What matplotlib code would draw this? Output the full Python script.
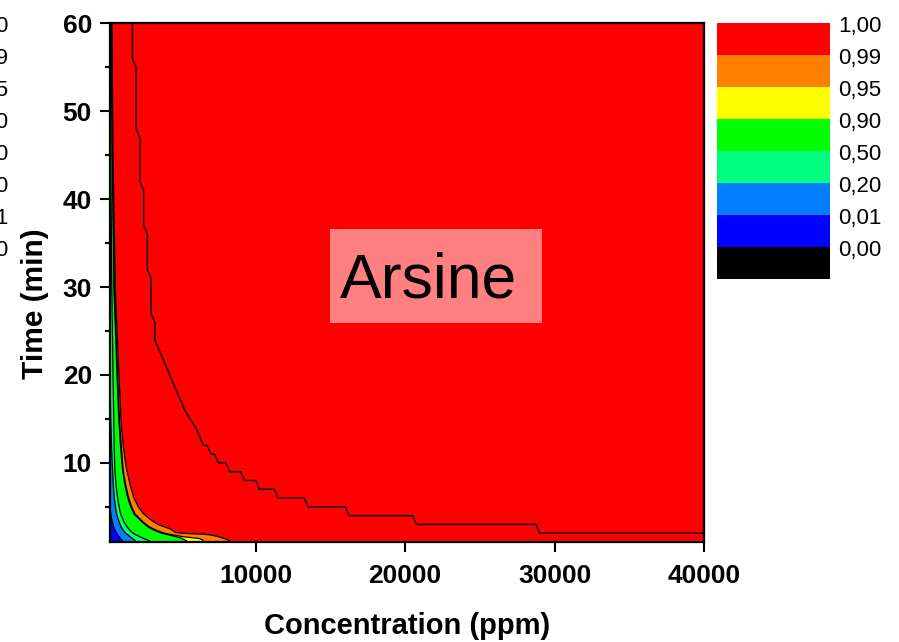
import matplotlib
matplotlib.use("Agg")
import matplotlib.pyplot as plt
from matplotlib.patches import Rectangle
from matplotlib.ticker import MultipleLocator

plt.rcParams["font.family"] = ["Liberation Sans", "DejaVu Sans"]

W, H = 899, 642
X_MIN, X_MAX = 250, 40000
T_MIN, T_MAX = 1, 60

# colour bands bottom -> top, label sits on the top edge of each band
levels = ["0,00", "0,01", "0,20", "0,50", "0,90", "0,95", "0,99", "1,00"]
band_colors = ["#000000", "#0000FF", "#0080FF", "#00FF80",
               "#00FF00", "#FFFF00", "#FF8000", "#FF0000"]

# contour lines: time (min) / concentration (ppm)
c01_t = [5.0, 4.2, 3.3, 2.7, 2.3, 2.0, 1.7, 1.4, 1.2, 1.0]
c01_c = [250, 300, 400, 500, 600, 700, 800, 950, 1050, 1130]

c20_t = [20, 15, 12, 9.2, 7.5, 6, 5, 4.2, 3.3, 2.7, 2.3, 2.0, 1.8, 1.6, 1.4, 1.2, 1.0]
c20_c = [250, 300, 350, 420, 470, 540, 610, 690, 850, 1000, 1150, 1300, 1450, 1600, 1750, 1900, 2000]

c50_t = [60, 40, 30, 20, 15, 12, 9.2, 7.5, 6, 5, 4.2, 3.3, 2.7, 2.3, 2.0, 1.8, 1.6, 1.4, 1.2, 1.0]
c50_c = [260, 320, 370, 450, 500, 530, 576, 650, 760, 860, 960, 1180, 1400, 1600, 1800, 2000, 2250, 2500, 2800, 3000]

c90_t = [60, 45, 30, 20, 15, 12, 9.2, 7.5, 6, 5, 4.2, 3.3, 2.7, 2.3, 2.0, 1.8, 1.6, 1.45, 1.28, 1.15, 1.0]
c90_c = [340, 400, 510, 720, 840, 950, 1090, 1250, 1440, 1640, 1850, 2380, 2800, 3250, 3700, 4200, 4700, 5000, 5200, 5350, 5400]

c95_t = [60, 45, 30, 20, 15, 12, 9.2, 7.5, 6, 5, 4.2, 3.3, 2.7, 2.3, 2.0, 1.8, 1.6, 1.5, 1.4, 1.25, 1.0]
c95_c = [355, 420, 540, 760, 880, 1000, 1130, 1300, 1500, 1700, 1920, 2450, 2900, 3400, 3900, 4500, 5150, 5700, 6200, 6450, 6500]

c99_t = [60, 45, 30, 20, 15, 12, 9.5, 7.5, 6, 5, 4.2, 3.5, 3, 2.5, 2.3, 2.1, 2.0, 1.95, 1.9, 1.8, 1.6, 1.4, 1.2, 1.0]
c99_c = [380, 450, 600, 850, 980, 1130, 1330, 1600, 1850, 2150, 2500, 3000, 3450, 4260, 4450, 4600, 5000, 5600, 6400, 7000, 7500, 7900, 8200, 8390]

# the stepped 1,00 line
outer_t = [60, 56, 55, 48, 47, 42, 41, 37, 36, 32, 31, 27, 26, 24,
           23, 22, 21, 20, 19, 18, 17, 16, 15.3, 14.6, 14, 13,
           12, 12, 11, 11, 10, 10, 9, 9, 8, 8, 7, 7, 6, 6, 5, 5, 4, 4, 3, 3, 2, 2]
outer_c = [1750, 1750, 2000, 2000, 2250, 2250, 2500, 2500, 2750, 2750, 3000, 3000, 3250, 3250,
           3500, 3750, 4000, 4250, 4500, 4750, 5000, 5250, 5500, 5750, 6000, 6250,
           6500, 6750, 7000, 7250, 7500, 8000, 8250, 9000, 9250, 10000, 10250, 11250,
           11500, 13250, 13500, 16000, 16250, 20500, 20750, 28750, 29000, 40000]


def px(x0, y0, x1, y1):
    """pixel box (top-left origin) -> figure rect"""
    return [x0 / W, 1 - y1 / H, (x1 - x0) / W, (y1 - y0) / H]


fig = plt.figure(figsize=(W / 100, H / 100), dpi=100)
ax = fig.add_axes(px(110, 23.3, 704, 542))
ax.set_facecolor("#FF0000")

# paint from the outside in: each polygon is the area left of a contour
fills = [(c99_c, c99_t, "#FF8000"), (c95_c, c95_t, "#FFFF00"),
         (c90_c, c90_t, "#00FF00"), (c50_c, c50_t, "#00FF80"),
         (c20_c, c20_t, "#0080FF"), (c01_c, c01_t, "#0000FF")]
for cc, tt, col in fills:
    xs = [0] + list(cc) + [0]
    ys = [tt[0]] + list(tt) + [tt[-1]]
    ax.fill(xs, ys, color=col, lw=0)
for cc, tt, col in fills:
    ax.plot(cc, tt, color="black", lw=0.9)
ax.plot(outer_c, outer_t, color="black", lw=1.0)

ax.set_xlim(X_MIN, X_MAX)
ax.set_ylim(T_MIN, T_MAX)
ax.set_xticks([10000, 20000, 30000, 40000])
ax.set_yticks([10, 20, 30, 40, 50, 60])
ax.yaxis.set_minor_locator(MultipleLocator(5))
for s in ax.spines.values():
    s.set_linewidth(1.6)
ax.tick_params(which="major", direction="out", length=7, width=1.5, labelsize=19)
ax.tick_params(which="minor", direction="out", length=3.5, width=1.5)
ax.tick_params(axis="x", pad=8.5)
ax.tick_params(axis="y", pad=6)
for lab in ax.get_xticklabels() + ax.get_yticklabels():
    lab.set_fontweight("bold")
ax.set_xlabel("Concentration (ppm)", fontsize=21, fontweight="bold")
ax.set_ylabel("Time (min)", fontsize=21.5, fontweight="bold")
ax.xaxis.set_label_coords(0.5, -0.135)
ax.yaxis.set_label_coords(-0.103, 0.46)

# label box in the middle of the red area
fig.patches.append(Rectangle((330 / W, 1 - 322.7 / H), 212 / W, 93.4 / H,
                             transform=fig.transFigure, facecolor="#FF8080",
                             edgecolor="none", zorder=5))
fig.text(428 / W, 1 - 298 / H, "Arsine", fontsize=45, ha="center", va="baseline", zorder=6)

# colour scale
cax = fig.add_axes(px(716.7, 22.7, 830, 278.7))
for i, col in enumerate(band_colors):
    cax.bar(0, 1, bottom=i, width=1, color=col, lw=0)
cax.set_xlim(-0.5, 0.5)
cax.set_ylim(0, len(band_colors))
cax.axis("off")
band_h = 256 / len(band_colors)
for i, lab in enumerate(levels):
    y_pix = 278.7 - (i + 1) * band_h + 4
    fig.text(838 / W, 1 - y_pix / H, lab, fontsize=16, ha="left", va="center")
    # leftover scale labels of the neighbouring panel, cut by the edge
    fig.text(8.5 / W, 1 - y_pix / H, lab, fontsize=16, ha="right", va="center")

fig.savefig("out.png", dpi=100)
